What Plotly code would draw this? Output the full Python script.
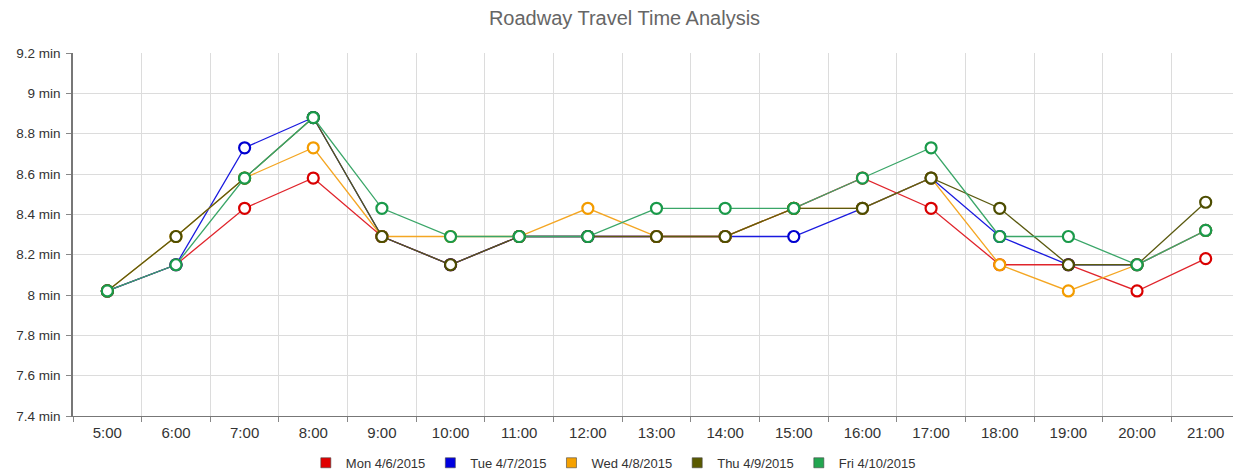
import plotly.graph_objects as go

hours = ["5:00", "6:00", "7:00", "8:00", "9:00", "10:00", "11:00", "12:00", "13:00",
         "14:00", "15:00", "16:00", "17:00", "18:00", "19:00", "20:00", "21:00"]

mon = [8.02, 8.15, 8.43, 8.58, 8.29, 8.15, 8.29, 8.29, 8.29, 8.29, 8.43, 8.58, 8.43, 8.15, 8.15, 8.02, 8.18]
tue = [8.02, 8.15, 8.73, 8.88, 8.29, 8.15, 8.29, 8.29, 8.29, 8.29, 8.29, 8.43, 8.58, 8.29, 8.15, 8.15, 8.32]
wed = [8.02, 8.29, 8.58, 8.73, 8.29, 8.29, 8.29, 8.43, 8.29, 8.29, 8.43, 8.43, 8.58, 8.15, 8.02, 8.15, 8.32]
thu = [8.02, 8.29, 8.58, 8.88, 8.29, 8.15, 8.29, 8.29, 8.29, 8.29, 8.43, 8.43, 8.58, 8.43, 8.15, 8.15, 8.46]
fri = [8.02, 8.15, 8.58, 8.88, 8.43, 8.29, 8.29, 8.29, 8.43, 8.43, 8.43, 8.58, 8.73, 8.29, 8.29, 8.15, 8.32]

names = ["Mon 4/6/2015", "Tue 4/7/2015", "Wed 4/8/2015", "Thu 4/9/2015", "Fri 4/10/2015"]
series = [mon, tue, wed, thu, fri]
line_colors = ["#e0242b", "#1a1adf", "#f4a623", "#5b5a10", "#3aa668"]
marker_colors = ["#d90000", "#0000d0", "#f39c00", "#4d4d00", "#1a9a4a"]
legend_colors = ["#e00000", "#0000e0", "#f5a100", "#5a5a00", "#22a650"]

fig = go.Figure()
for name, vals, lc, mc in zip(names, series, line_colors, marker_colors):
    fig.add_trace(go.Scatter(
        x=hours, y=vals, name=name, mode="lines+markers",
        line=dict(color=lc, width=1.3),
        marker=dict(size=11, color="white", line=dict(color=mc, width=2.2)),
        showlegend=False,
    ))
for name, c in zip(names, legend_colors):
    fig.add_trace(go.Scatter(
        x=[None], y=[None], name=name, mode="markers",
        marker=dict(symbol="square", size=10, color=c, line=dict(color="#444", width=0.6)),
        showlegend=True,
    ))

fig.update_layout(
    width=1233, height=467,
    paper_bgcolor="white", plot_bgcolor="white",
    margin=dict(l=65, r=1, t=45, b=59, autoexpand=False),
    font=dict(family="Liberation Sans, Arial, sans-serif", size=13, color="#333"),
    title=dict(text="Roadway Travel Time Analysis", x=0.5, xanchor="center",
               y=0.979, yanchor="middle",
               font=dict(size=20, color="#666")),
    legend=dict(orientation="h", x=0.463, xanchor="center", y=-0.129, yanchor="middle",
                font=dict(size=13, color="#333"), itemwidth=30, tracegroupgap=0,
                itemclick=False),
    showlegend=True,
)
fig.update_xaxes(
    type="category", range=[-0.5, 16.5], tickson="boundaries",
    showgrid=True, gridcolor="#dcdcdc", gridwidth=1,
    ticks="outside", ticklen=5, tickcolor="#888",
    showline=True, linecolor="#777", linewidth=1,
    tickfont=dict(size=15, color="#333"), ticklabelstandoff=3,
)
fig.update_yaxes(
    range=[7.4, 9.2], dtick=0.2, tick0=7.4, ticksuffix=" min",
    showgrid=True, gridcolor="#dcdcdc", gridwidth=1,
    ticks="outside", ticklen=5, tickcolor="#888",
    showline=True, linecolor="#777", linewidth=1.5,
    zeroline=False,
    tickfont=dict(size=13.5, color="#333"), ticklabelstandoff=3,
)

fig.write_html("out.html")
